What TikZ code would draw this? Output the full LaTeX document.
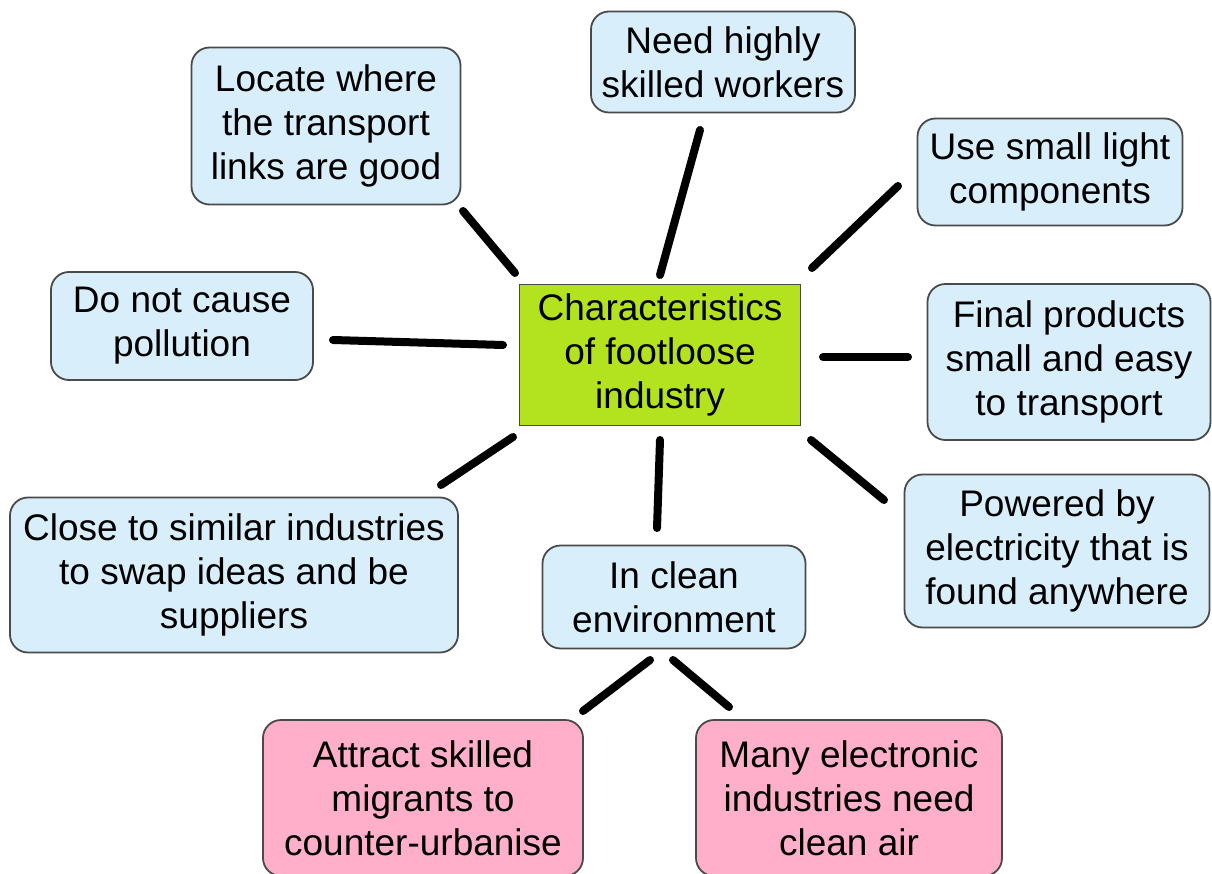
\documentclass[tikz,border=0pt]{standalone}
\usepackage{fontspec}
\setmainfont{Liberation Sans}
\usetikzlibrary{positioning}
\definecolor{boxblue}{HTML}{D9EEFB}
\definecolor{boxpink}{HTML}{FFAFC9}
\definecolor{hubgreen}{HTML}{B2E31E}
\definecolor{edgegrey}{HTML}{4A4A4A}

\begin{document}
\begin{tikzpicture}[x=1pt,y=-1pt,
	idea/.style={draw=edgegrey, line width=1.8pt, rounded corners=18pt, fill=boxblue,
		align=center, inner sep=0pt, font=\fontsize{37}{44}\selectfont},
	effect/.style={idea, fill=boxpink},
	hub/.style={draw=edgegrey, line width=1.8pt, fill=hubgreen, align=center,
		inner sep=0pt, font=\fontsize{37}{44}\selectfont},
	spoke/.style={black, line width=8pt, line cap=round}]
	\useasboundingbox (0,0) rectangle (1212,874);
	\fill[white] (0,0) rectangle (1212,874);
	% centre box
	\node[hub, minimum width=281pt, minimum height=141pt] (hub) at (660,355) {Characteristics\\of footloose\\industry};
	% characteristics round it
	\node[idea, minimum width=269pt, minimum height=157pt] (transport) at (326,126) {Locate where\\the transport\\links are good};
	\node[idea, minimum width=264pt, minimum height=101pt] (workers) at (723,62) {Need highly\\skilled workers};
	\node[idea, minimum width=265pt, minimum height=107pt] (components) at (1050,172) {Use small light\\components};
	\node[idea, minimum width=262pt, minimum height=108pt] (pollution) at (182,326) {Do not cause\\pollution};
	\node[idea, minimum width=283pt, minimum height=156pt] (products) at (1069,362) {Final products\\small and easy\\to transport};
	\node[idea, minimum width=448pt, minimum height=155pt] (similar) at (234,575) {Close to similar industries\\to swap ideas and be\\suppliers};
	\node[idea, minimum width=263pt, minimum height=103pt] (clean) at (674,597) {In clean\\environment};
	\node[idea, minimum width=305pt, minimum height=153pt] (power) at (1057,551) {Powered by\\electricity that is\\found anywhere};
	% knock-on effects of a clean environment
	\node[effect, minimum width=320pt, minimum height=156pt] (migrants) at (423,798) {Attract skilled\\migrants to\\counter-urbanise};
	\node[effect, minimum width=306pt, minimum height=156pt] (air) at (849,798) {Many electronic\\industries need\\clean air};

	% spoke ends
	\coordinate (s1a) at (515,273); \coordinate (s1b) at (463,211);
	\coordinate (s2a) at (660,275); \coordinate (s2b) at (700,130);
	\coordinate (s3a) at (812,268); \coordinate (s3b) at (898,186);
	\coordinate (s4a) at (503,345); \coordinate (s4b) at (333,340);
	\coordinate (s5a) at (823,357); \coordinate (s5b) at (908,357);
	\coordinate (s6a) at (513,437); \coordinate (s6b) at (441,485);
	\coordinate (s7a) at (660,440); \coordinate (s7b) at (657,528);
	\coordinate (s8a) at (811,440); \coordinate (s8b) at (884,500);
	\coordinate (s9a) at (650,660); \coordinate (s9b) at (583,711);
	\coordinate (s10a) at (673,660); \coordinate (s10b) at (729,707);
	\foreach \s in {1,...,10}
		\draw[spoke] (s\s a) -- (s\s b);
\end{tikzpicture}
\end{document}
